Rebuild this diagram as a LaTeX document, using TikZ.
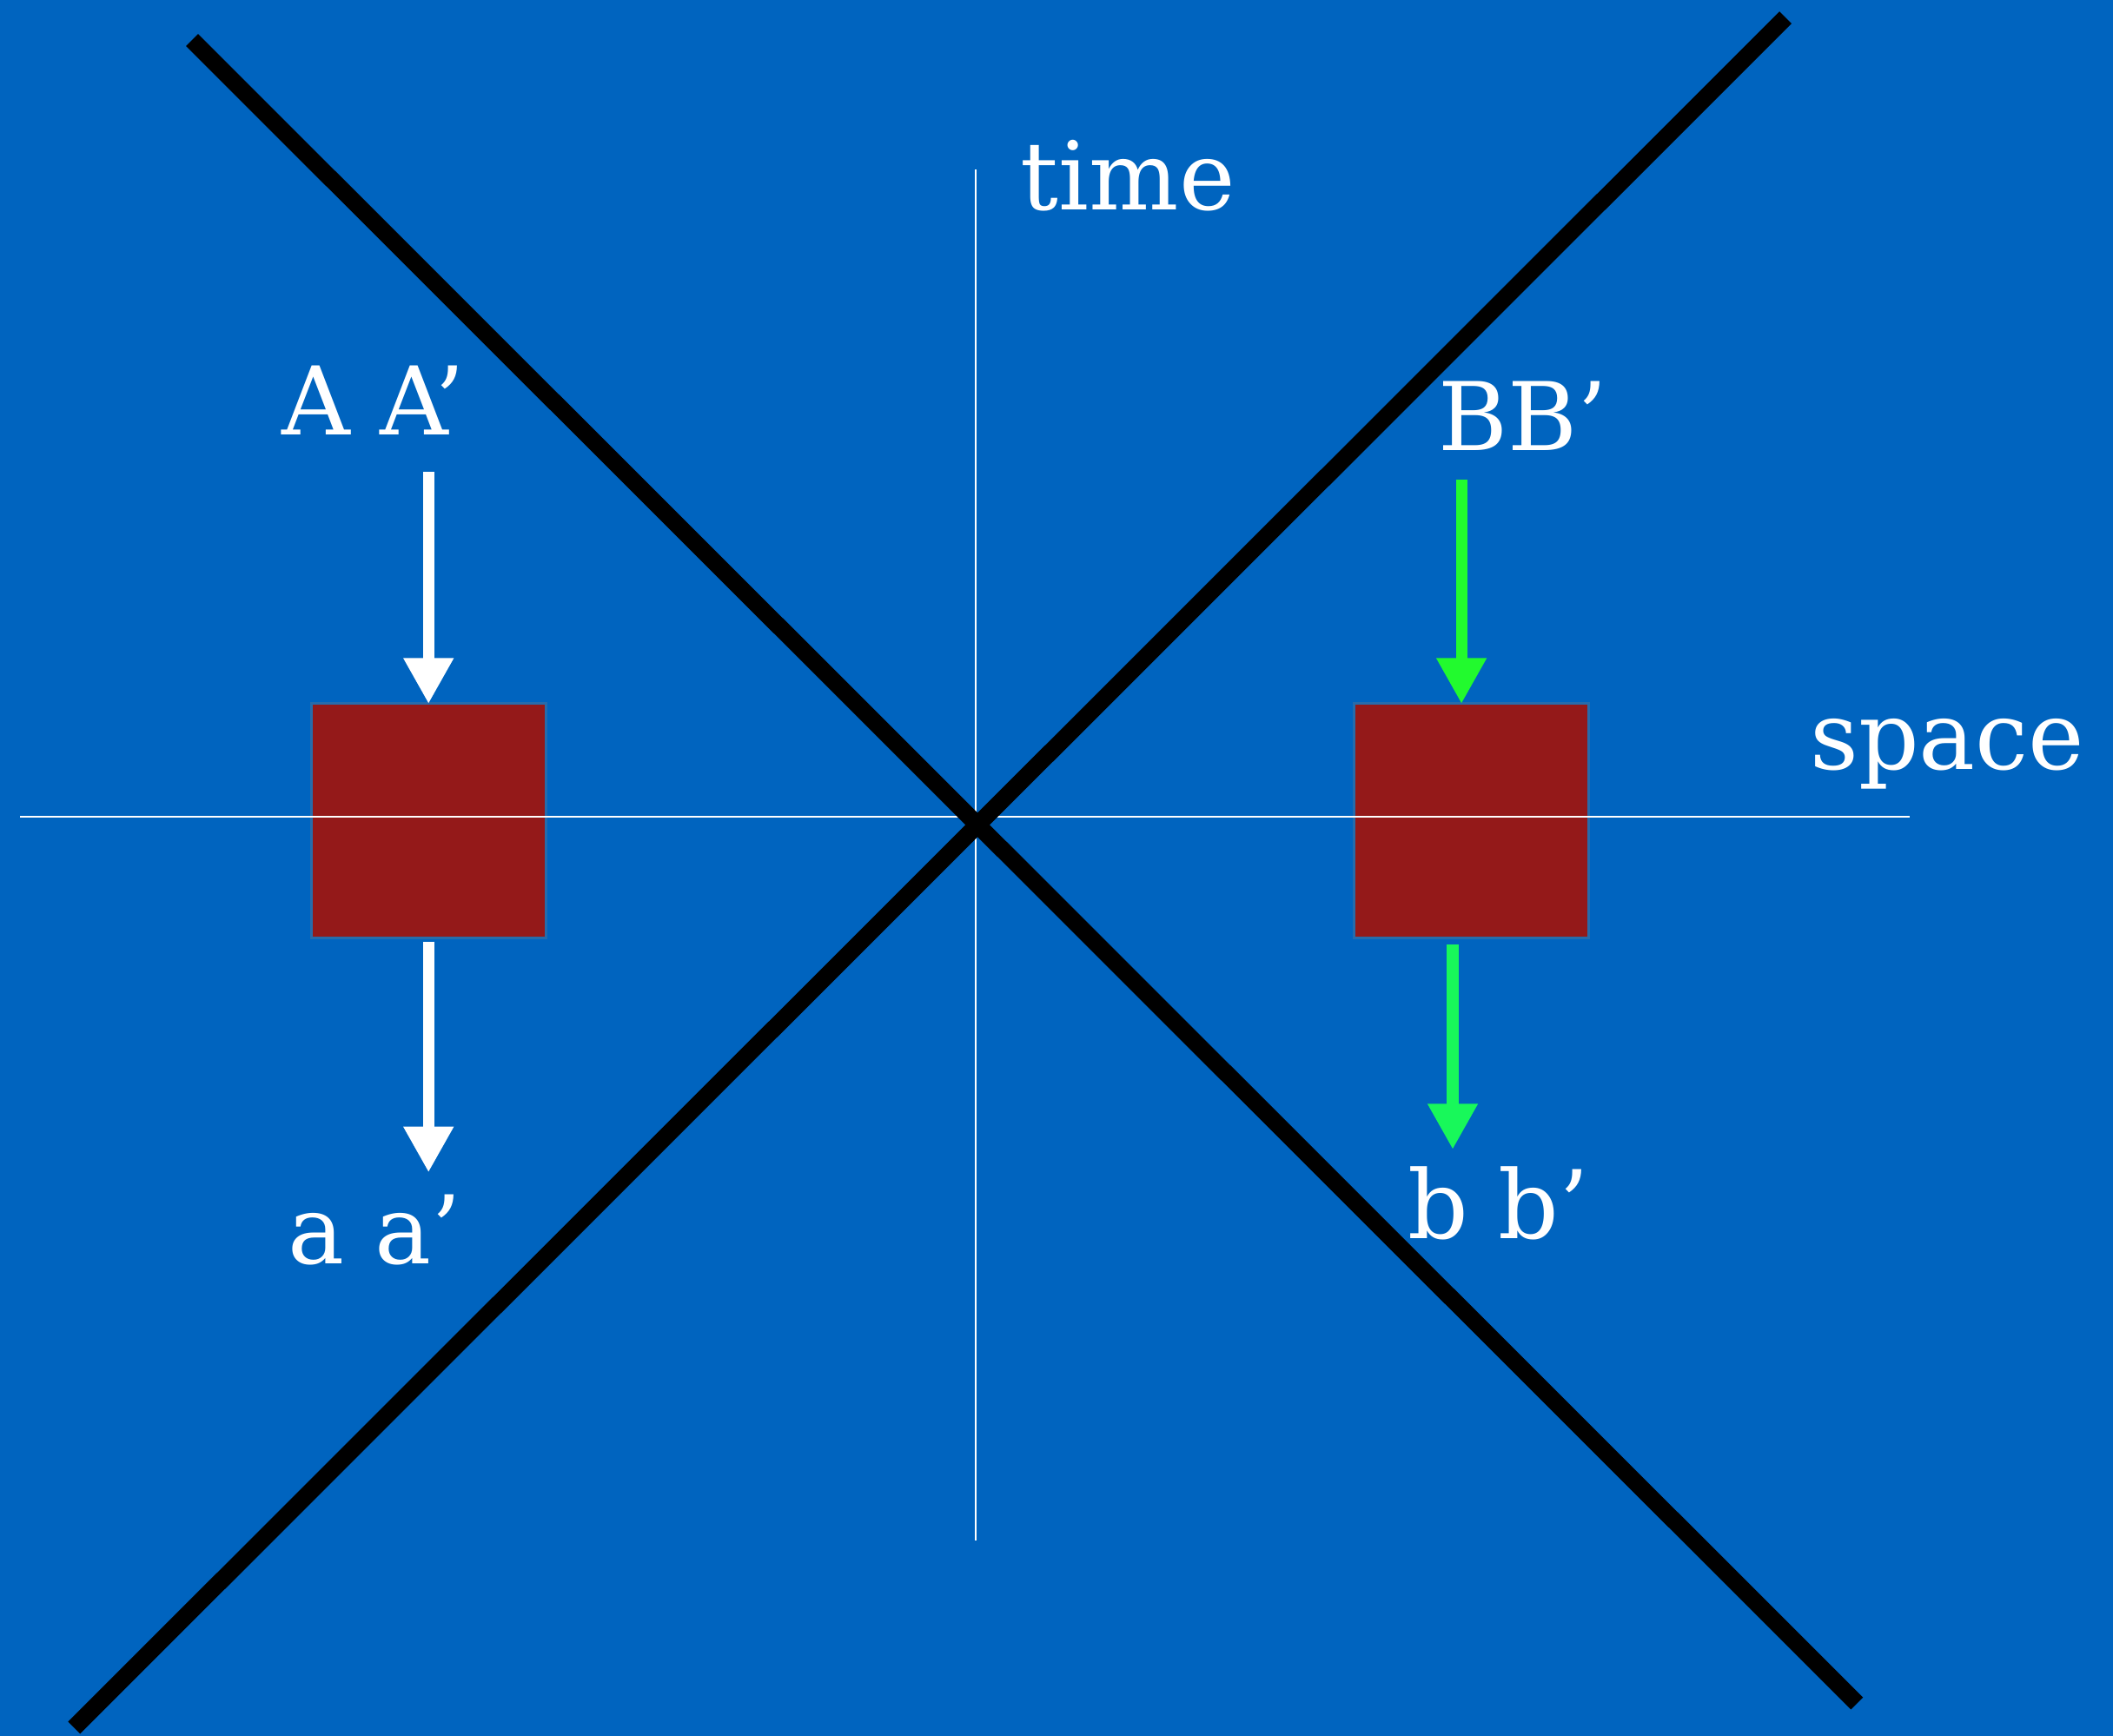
\documentclass[tikz,border=0pt]{standalone}
\usepackage{fontspec}
\setmainfont{DejaVu Serif}
\usepackage{xcolor}
\usetikzlibrary{arrows.meta, positioning, shadows, math}
\definecolor{bgblue}{RGB}{0, 100, 191}
\definecolor{boxred}{RGB}{148, 25, 25}
\definecolor{topgreen}{RGB}{34, 250, 46}
\definecolor{botgreen}{RGB}{24, 248, 90}

\tikzset{
  lab/.style={text=white, anchor=base, inner sep=0pt, font=\fontsize{20}{24}\selectfont},
  axis/.style={white, line width=0.45pt},
  cone/.style={black, line width=3.6pt},
  block/.style={fill=boxred, draw=none, minimum width=1.72cm, minimum height=1.72cm,
    inner sep=0pt, drop shadow={opacity=0.3, shadow scale=1.025, shadow xshift=0pt, shadow yshift=0pt}},
  warrow/.style={white, line width=2.4pt, -{Triangle[width=0.35cm, length=0.34cm]}},
  garrow/.style={line width=2.4pt, -{Triangle[width=0.35cm, length=0.34cm]}},
}

\begin{document}
\begin{tikzpicture}[x=1cm, y=-1cm]
\tikzmath{
\W=15.68; \H=12.88;
}
\fill[bgblue] (0,0) rectangle (\W,\H);
\useasboundingbox (0,0) rectangle (\W,\H);

% boxes
\node[block] (boxA) at (3.18,6.09) {};
\node[block] (boxB) at (10.92,6.09) {};

% axes
\coordinate (xl) at (0.15,6.06);
\coordinate (xr) at (14.17,6.06);
\coordinate (tt) at (7.24,1.26);
\coordinate (tb) at (7.24,11.43);
\draw[axis] (xl) -- (xr);
\draw[axis] (tt) -- (tb);

% light cone
\coordinate (c1) at (1.425,0.297);
\coordinate (c2) at (13.78,12.64);
\coordinate (c3) at (0.55,12.82);
\coordinate (c4) at (13.25,0.13);
\draw[cone] (c1) -- (c2);
\draw[cone] (c3) -- (c4);

% labels
\node[lab] (timelab) at (8.37,1.56) {time};
\node[lab] (spacelab) at (14.45,5.71) {space};
\node[lab] (labA) at (2.77,3.23) {A A’};
\node[lab] (laba) at (2.78,9.38) {a a’};
\node[lab] (labB) at (11.30,3.34) {BB’};
\node[lab] (labb) at (11.12,9.19) {b b’};

% arrows
\coordinate (Astart) at (3.18,3.50);
\coordinate (aend) at (3.18,8.70);
\coordinate (Bstart) at (10.845,3.56);
\coordinate (bstart) at (10.78,7.01);
\coordinate (bend) at (10.78,8.53);
\draw[warrow] (Astart) -- (Astart |- boxA.north);
\draw[warrow, shorten <=0.03cm] (boxA.south) -- (aend);
\draw[garrow, topgreen] (Bstart) -- (Bstart |- boxB.north);
\draw[garrow, botgreen] (bstart) -- (bend);

\end{tikzpicture}
\end{document}
